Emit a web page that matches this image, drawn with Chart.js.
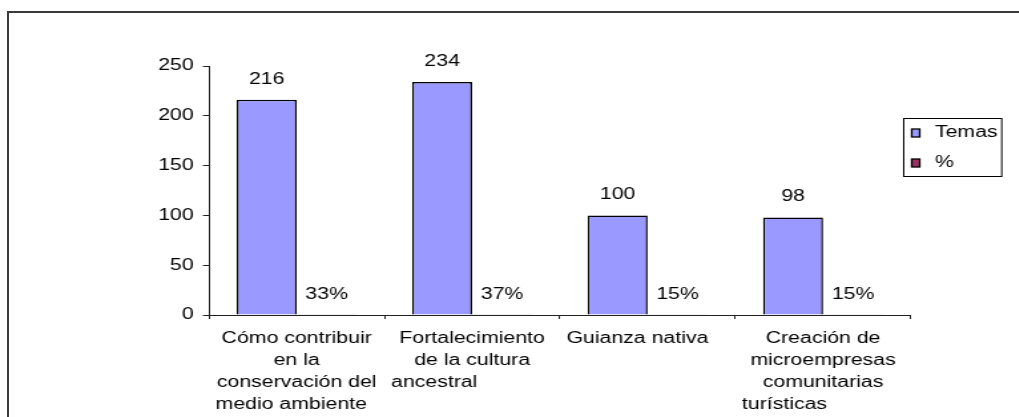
<!DOCTYPE html>
<html>
<head>
<meta charset="utf-8">
<script src="https://cdn.jsdelivr.net/npm/chart.js@4/dist/chart.umd.min.js"></script>
<style>
    html, body { margin: 0; padding: 0; overflow: hidden; background: #fff; width: 1019px; height: 417px; }
    #frame { position: absolute; left: 7px; top: 11px; width: 1200px; height: 600px; border: 2px solid #3a3a3a; }
    #chart { position: absolute; left: 0; top: 0; width: 766px; height: 417px; transform: scaleX(1.33); transform-origin: 0 0; }
</style>
</head>
<body>
<div id="frame"></div>
<canvas id="chart" width="766" height="417"></canvas>
<script>
// data
const categories = [
    ["Cómo contribuir", "en la", "conservación del", "medio ambiente"],
    ["Fortalecimiento", "de la cultura", "ancestral"],
    ["Guianza nativa"],
    ["Creación de", "microempresas", "comunitarias", "turísticas"]
];
const seriesNames = ["Temas", "%"];
const temas = [216, 234, 100, 98];
const porcentaje = [0.33, 0.37, 0.15, 0.15];
const yTicks = [0, 50, 100, 150, 200, 250];

const FAMILY = "'Liberation Sans', Arial, sans-serif";
const FONT = "16px " + FAMILY;

// value labels above each bar
const valueLabels = {
    id: "valueLabels",
    afterDatasetsDraw(chart) {
        const ctx = chart.ctx;
        ctx.save();
        ctx.font = FONT;
        ctx.fillStyle = "#000";
        ctx.textAlign = "center";
        ctx.textBaseline = "middle";
        chart.data.datasets.forEach((ds, di) => {
            chart.getDatasetMeta(di).data.forEach((bar, i) => {
                const v = ds.data[i];
                const txt = di === 1 ? Math.round(v * 100) + "%" : String(v);
                ctx.fillText(txt, bar.x, bar.y - 20.5);
            });
        });
        ctx.restore();
    }
};

// category labels, last line left aligned like the original
const categoryLabels = {
    id: "categoryLabels",
    afterDraw(chart) {
        const ctx = chart.ctx;
        const xs = chart.scales.x;
        const top = chart.chartArea.bottom;
        ctx.save();
        ctx.font = FONT;
        ctx.fillStyle = "#000";
        ctx.textBaseline = "middle";
        categories.forEach((lines, i) => {
            const cx = xs.getPixelForValue(i);
            lines.forEach((line, j) => {
                const y = top + 24 + j * 22;
                if (j === lines.length - 1) {
                    ctx.textAlign = "left";
                    ctx.fillText(line, cx - 61, y);
                } else {
                    ctx.textAlign = "center";
                    ctx.fillText(line, cx, y);
                }
            });
        });
        ctx.restore();
    }
};

// boxed legend at the right
const boxLegend = {
    id: "boxLegend",
    afterDraw(chart) {
        const ctx = chart.ctx;
        const left = chart.chartArea.right - 5.3;
        const top = 118;
        ctx.save();
        ctx.strokeStyle = "#000";
        ctx.lineWidth = 1;
        ctx.strokeRect(left, top + 0.5, 73.7, 58);
        ctx.font = FONT;
        ctx.textAlign = "left";
        ctx.textBaseline = "middle";
        chart.data.datasets.forEach((ds, di) => {
            const cy = top + 15 + di * 30;
            ctx.fillStyle = ds.backgroundColor;
            ctx.fillRect(left + 6, cy - 4, 6, 8);
            ctx.strokeStyle = "#000";
            ctx.lineWidth = 1.3;
            ctx.strokeRect(left + 6, cy - 4, 6, 8);
            ctx.fillStyle = "#000";
            ctx.fillText(ds.label, left + 23.4, cy);
        });
        ctx.restore();
    }
};

new Chart(document.getElementById("chart"), {
    type: "bar",
    data: {
        labels: categories.map(c => c.join(" ")),
        datasets: [
            { label: seriesNames[0], data: temas, backgroundColor: "#9999FF", borderColor: "#000", borderWidth: 1.5 },
            { label: seriesNames[1], data: porcentaje, backgroundColor: "#993366", borderColor: "#000", borderWidth: 1 }
        ]
    },
    options: {
        responsive: false,
        animation: false,
        devicePixelRatio: 1,
        categoryPercentage: 0.684,
        barPercentage: 1,
        layout: { padding: { top: 66, right: 81.2, bottom: 0, left: 0 } },
        plugins: { legend: { display: false }, tooltip: { enabled: false } },
        scales: {
            x: {
                grid: { offset: true, drawOnChartArea: false, tickLength: 4, color: "#222" },
                border: { color: "#222", width: 1 },
                ticks: { display: false },
                afterFit: s => { s.height = 102; }
            },
            y: {
                min: yTicks[0],
                max: yTicks[yTicks.length - 1],
                afterBuildTicks: s => { s.ticks = yTicks.map(v => ({ value: v })); },
                grid: { drawOnChartArea: false, tickLength: 4.5, color: "#222" },
                border: { color: "#222", width: 1 },
                ticks: { font: { family: FAMILY, size: 16 }, color: "#000", padding: 7 },
                afterFit: s => { s.width = 157.1; }
            }
        }
    },
    plugins: [valueLabels, categoryLabels, boxLegend]
});
</script>
</body>
</html>
